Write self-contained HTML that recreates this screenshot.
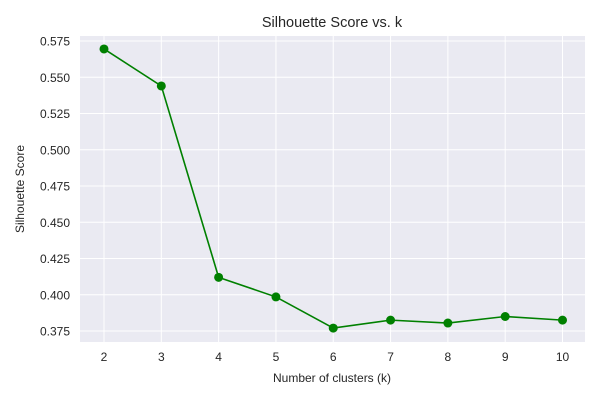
<!DOCTYPE html>
<html><head><meta charset="utf-8"><style>
body{margin:0;background:#fff;}
svg text{font-family:"Liberation Sans",Arial,sans-serif;fill:#262626;}
</style></head><body>
<svg width="600" height="400">
<rect x="80" y="36" width="505" height="306" fill="#EAEAF2"/>
<g id="grid"></g>
<g id="ticks"></g>
<polyline id="line" fill="none" stroke="#008000" stroke-width="1.6"/>
<g id="pts"></g>
<text x="332" y="27" text-anchor="middle" font-size="14.5">Silhouette Score vs. k</text>
<text x="332" y="382" text-anchor="middle" font-size="12">Number of clusters (k)</text>
<text transform="translate(24,189) rotate(-90)" text-anchor="middle" font-size="12">Silhouette Score</text>
</svg>
<script>
const ks=[2,3,4,5,6,7,8,9,10];
const scores=[0.5695,0.544,0.412,0.3985,0.377,0.3825,0.3805,0.385,0.3825];
const yTicks=[0.375,0.4,0.425,0.45,0.475,0.5,0.525,0.55,0.575];
const NS='http://www.w3.org/2000/svg';
const X=k=>104+(k-2)*(562.5-104)/8;
const Y=v=>41+(0.575-v)*(290/0.2);
const grid=document.getElementById('grid'),ticks=document.getElementById('ticks'),pts=document.getElementById('pts');
function mk(tag,attrs,parent){const e=document.createElementNS(NS,tag);for(const a in attrs)e.setAttribute(a,attrs[a]);parent.appendChild(e);return e;}
ks.forEach(k=>{
 const l=mk('line',{x1:X(k),x2:X(k),y1:36,y2:342,stroke:'#fff','stroke-width':1},grid);
 
 
 const t=mk('text',{x:X(k),y:361,'text-anchor':'middle','font-size':12},ticks);
 t.textContent=k;
 
 
});
yTicks.forEach(v=>{
 const l=mk('line',{x1:80,x2:585,y1:Y(v),y2:Y(v),stroke:'#fff','stroke-width':1},grid);
 
 
 const t=mk('text',{x:70,y:Y(v)+4.5,'text-anchor':'end','font-size':12},ticks);
 t.textContent=v.toFixed(3);
 
 
});
document.getElementById('line').setAttribute('points',ks.map((k,i)=>X(k)+','+Y(scores[i])).join(' '));
ks.forEach((k,i)=>{
 const c=mk('circle',{cx:X(k),cy:Y(scores[i]),r:4.5,fill:'#008000'},pts);
 
 
});
</script>
</body></html>
